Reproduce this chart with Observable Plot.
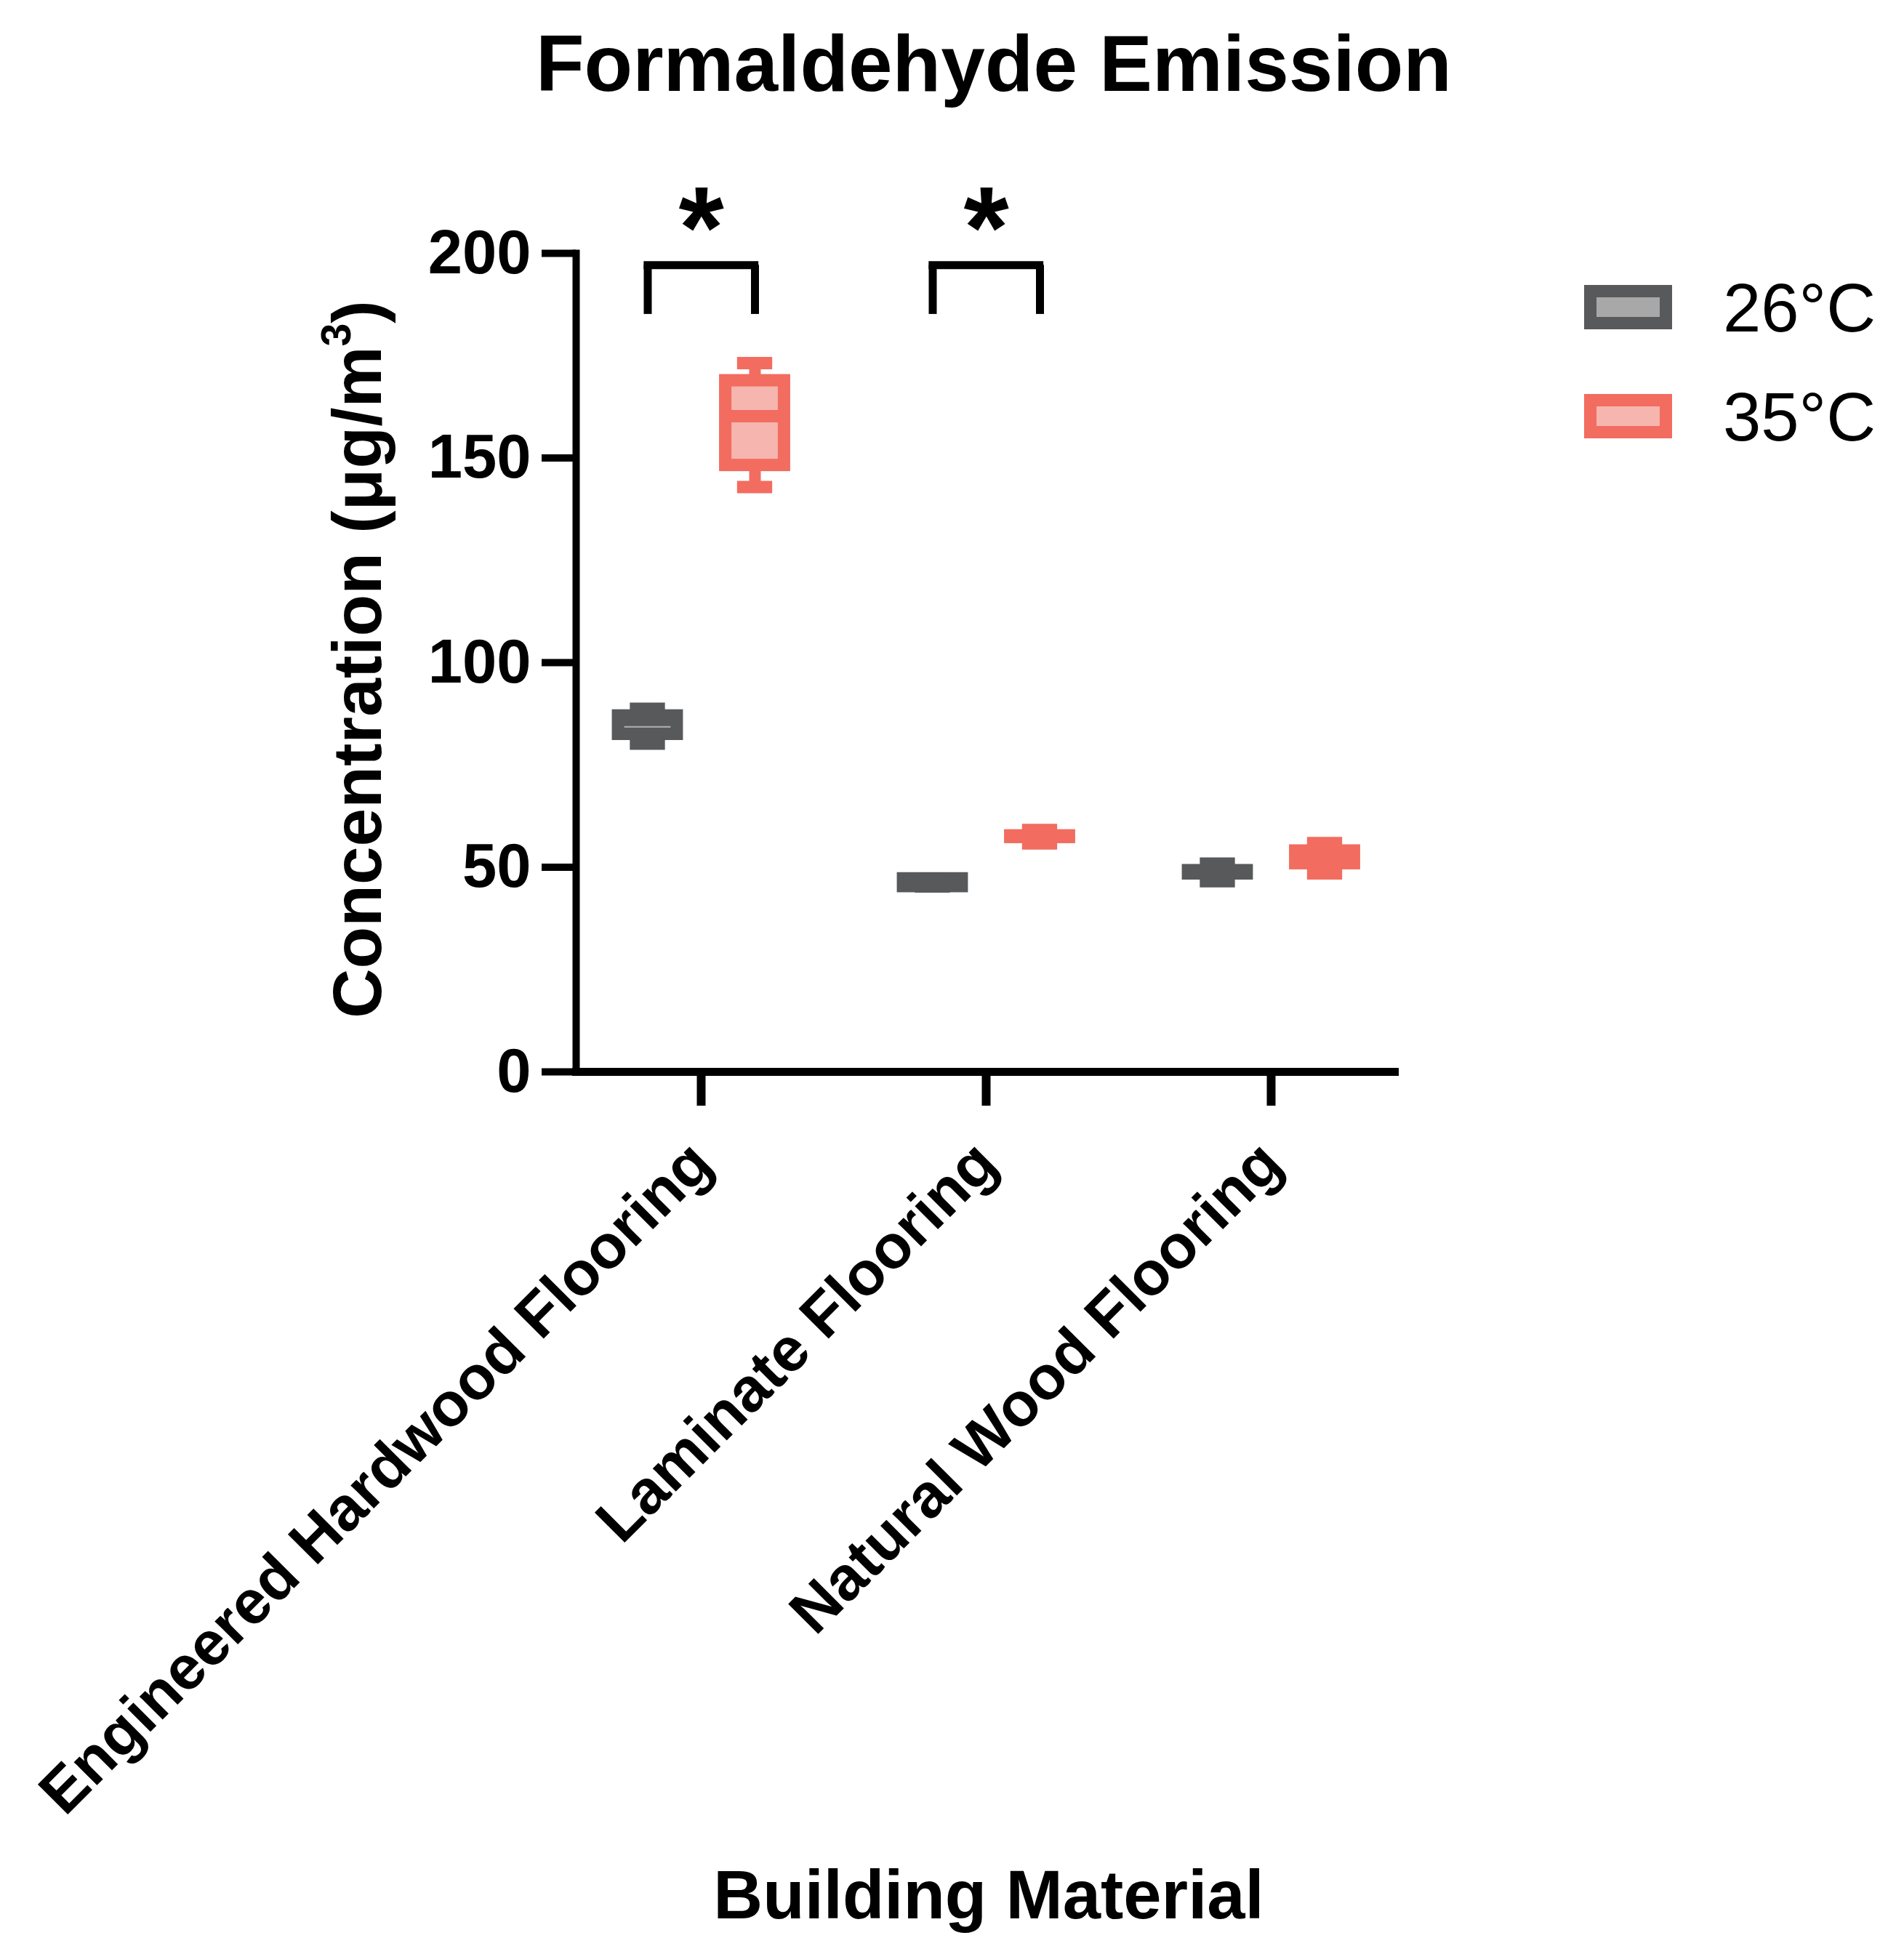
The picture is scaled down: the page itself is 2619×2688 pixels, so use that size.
<!DOCTYPE html>
<html>
<head>
<meta charset="utf-8">
<script src="https://cdn.jsdelivr.net/npm/d3@7"></script>
<script src="https://cdn.jsdelivr.net/npm/@observablehq/plot@0.6"></script>
<style>
  body { margin: 0; background: #fff; }
  #wrap { position: relative; width: 2619px; height: 2688px; overflow: hidden; font-family: "Liberation Sans", Arial, sans-serif; color: #000; }
  #chart { position: absolute; left: 0; top: 0; }
  .t { position: absolute; white-space: nowrap; line-height: 1; }
  .sw { position: absolute; box-sizing: border-box; border-style: solid; border-width: 17px; }
</style>
</head>
<body>
<div id="wrap">
  <div id="chart"></div>
  <div class="t" id="title" style="left:737px; top:33px; width:1200px; text-align:center; font-size:109px; font-weight:bold;">Formaldehyde Emission</div>
  <div class="t" id="ytitle" style="left:-109px; top:860px; width:1200px; height:94px; text-align:center; font-size:94.5px; font-weight:bold; transform:rotate(-90deg);">Concentration (μg/m<span style="font-size:57px; vertical-align:42px; line-height:0;">3</span>)</div>
  <div class="t" id="xtitle" style="left:760px; top:2560px; width:1200px; text-align:center; font-size:94px; font-weight:bold;">Building Material</div>
  <div id="legend"></div>
</div>
<script>
// ---- data ----
const categories = ["Engineered Hardwood Flooring", "Laminate Flooring", "Natural Wood Flooring"];
const temps = ["26°C", "35°C"];

const min26    = [80.2, 45.3, 46.6];
const q1_26    = [82.5, 45.3, 48.4];
const median26 = [86.0, 46.2, 48.8];
const q3_26    = [87.0, 47.2, 49.2];
const max26    = [88.7, 47.2, 50.9];

const min35    = [142.9, 55.8, 48.5];
const q1_35    = [148.2, 57.3, 50.9];
const median35 = [160.2, 57.5, 52.5];
const q3_35    = [168.9, 57.7, 54.0];
const max35    = [173.2, 59.1, 55.9];

const yTicks = [0, 50, 100, 150, 200];

// significance annotations
const sigCategories = ["Engineered Hardwood Flooring", "Laminate Flooring"];
const sigLabels = ["*", "*"];
const bracketTop = [197.1, 197.1];
const bracketBase = [185.1, 185.1];
const sigLabelY = [205.6, 205.6];

// ---- styles ----
const strokeColors = {"26°C": "#58595B", "35°C": "#F26C60"};
const fillColors   = {"26°C": "#A8A8A8", "35°C": "#F6B5AF"};
const offsets      = {"26°C": -73.5, "35°C": 74};

const stats = {
  "26°C": [min26, q1_26, median26, q3_26, max26],
  "35°C": [min35, q1_35, median35, q3_35, max35]
};

const rows = {};
for (const t of temps) {
  const [mn, q1, md, q3, mx] = stats[t];
  rows[t] = categories.map((c, i) => ({category: c, temp: t, min: mn[i], q1: q1[i], median: md[i], q3: q3[i], max: mx[i]}));
}
const sig = sigCategories.map((c, i) => ({category: c, label: sigLabels[i], top: bracketTop[i], base: bracketBase[i], ly: sigLabelY[i]}));

const xRange = [767, 1945];
const bw = (xRange[1] - xRange[0]) / categories.length;
const boxInset = bw / 2 - 40.75;
const capInset = bw / 2 - 24.5;

const marks = [];
for (const t of temps) {
  const dx = offsets[t], stroke = strokeColors[t];
  marks.push(
    Plot.ruleX(rows[t], {x: "category", y1: "min", y2: "max", stroke, strokeWidth: 16, dx}),
    Plot.barY(rows[t], {x: "category", y1: "q1", y2: "q3", fill: fillColors[t], stroke, strokeWidth: 17, insetLeft: boxInset, insetRight: boxInset, dx}),
    Plot.tickY(rows[t], {x: "category", y: "median", stroke, strokeWidth: 17, insetLeft: boxInset, insetRight: boxInset, dx}),
    Plot.tickY(rows[t], {x: "category", y: "max", stroke, strokeWidth: 17, insetLeft: capInset, insetRight: capInset, dx}),
    Plot.tickY(rows[t], {x: "category", y: "min", stroke, strokeWidth: 17, insetLeft: capInset, insetRight: capInset, dx})
  );
}

// brackets
marks.push(
  Plot.ruleX(sig, {x: "category", y1: "base", y2: "top", stroke: "#000", strokeWidth: 11, dx: offsets["26°C"]}),
  Plot.ruleX(sig, {x: "category", y1: "base", y2: "top", stroke: "#000", strokeWidth: 11, dx: offsets["35°C"]}),
  Plot.tickY(sig, {x: "category", y: "top", stroke: "#000", strokeWidth: 11, insetLeft: bw / 2 - 79, insetRight: bw / 2 - 79.5}),
  Plot.text(sig, {x: "category", y: "ly", text: "label", fontSize: 160, fontWeight: "bold", lineAnchor: "middle", fill: "#000"})
);

// axes
marks.push(
  Plot.frame({anchor: "left", stroke: "#000", strokeWidth: 10, strokeLinecap: "square"}),
  Plot.frame({anchor: "bottom", stroke: "#000", strokeWidth: 11, strokeLinecap: "square"}),
  Plot.axisY({ticks: yTicks, tickSize: 47, tickPadding: 15, fontSize: 85, fontWeight: "bold", strokeWidth: 10, stroke: "#000", fill: "#000", label: null}),
  Plot.axisX({tickSize: 47, tickFormat: () => "", strokeWidth: 12, stroke: "#000", label: null}),
  Plot.text(categories, {x: d => d, frameAnchor: "bottom", rotate: -45, textAnchor: "end", lineAnchor: "top", dx: -23, dy: 88, fontSize: 85, fontWeight: "bold", fill: "#000"})
);

const chart = Plot.plot({
  width: 2619,
  height: 2688,
  marginLeft: 792,
  marginRight: 701,
  marginTop: 348,
  marginBottom: 1214,
  style: {fontFamily: "'Liberation Sans', Arial, sans-serif", background: "white", overflow: "visible", color: "#000"},
  x: {type: "band", domain: categories, range: xRange, padding: 0, axis: null},
  y: {domain: [0, 200], axis: null},
  marks
});
document.getElementById("chart").appendChild(chart);

// legend (HTML)
const legend = document.getElementById("legend");
const legendTops = [392, 542];
temps.forEach((t, i) => {
  const sw = document.createElement("div");
  sw.className = "sw";
  sw.style.cssText = `left:2179px; top:${legendTops[i]}px; width:121px; height:61px; border-color:${strokeColors[t]}; background:${fillColors[t]};`;
  legend.appendChild(sw);
  const lb = document.createElement("div");
  lb.className = "t";
  lb.style.cssText = `left:2370px; top:${legendTops[i] - 15}px; font-size:94px;`;
  lb.textContent = t;
  legend.appendChild(lb);
});
</script>
</body>
</html>
